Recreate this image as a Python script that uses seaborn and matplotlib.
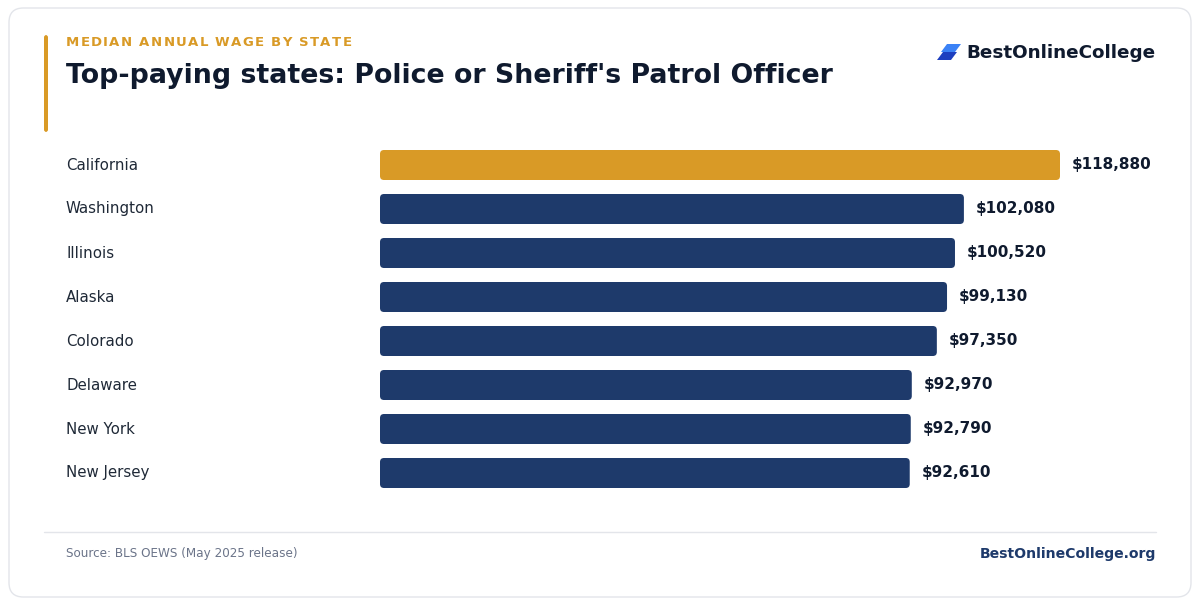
import matplotlib
matplotlib.use("Agg")
import matplotlib.pyplot as plt
import seaborn as sns
import pandas as pd
from matplotlib.patches import FancyBboxPatch, Polygon
import matplotlib.transforms as mtransforms
from matplotlib.textpath import TextToPath
from matplotlib.font_manager import FontProperties

states = ["California", "Washington", "Illinois", "Alaska", "Colorado", "Delaware", "New York", "New Jersey"]
wages = [118880, 102080, 100520, 99130, 97350, 92970, 92790, 92610]
labels = ["$118,880", "$102,080", "$100,520", "$99,130", "$97,350", "$92,970", "$92,790", "$92,610"]

sns.set_theme(style="white")
plt.rcParams['font.family'] = ['DejaVu Sans']

W, H = 1200, 606
fig = plt.figure(figsize=(12, 6.06), dpi=100)
fig.patch.set_facecolor("white")

def fx(px): return px / W
def fy(py): return 1 - py / H

card = FancyBboxPatch((fx(9), fy(597)), fx(1182), 589 / H, boxstyle="round,pad=0,rounding_size=0.012",
                      transform=fig.transFigure, facecolor="white", edgecolor="#E3E5EA", lw=1,
                      mutation_aspect=W / H, zorder=-10)
fig.patches.append(card)
fig.patches.append(FancyBboxPatch((fx(44), fy(132)), fx(4), 97 / H, boxstyle="round,pad=0,rounding_size=0.002",
                                  transform=fig.transFigure, facecolor="#D99A26", edgecolor="none",
                                  mutation_aspect=W / H, zorder=-5))

sub = "MEDIAN ANNUAL WAGE BY STATE"
fp = FontProperties(family="DejaVu Sans", weight="bold", size=9.5)
ttp = TextToPath()
x = 66.0
for ch in sub:
    fig.text(fx(x), fy(42), ch, color="#D99A26", fontproperties=fp, va="center")
    w, _, _ = ttp.get_text_width_height_descent(ch, fp, ismath=False)
    x += w * 100 / 72 + 1.35

fig.text(fx(66), fy(76), "Top-paying states: Police or Sheriff's Patrol Officer", color="#0F1A2E",
         fontsize=19.3, fontweight="bold", va="center")

fig.patches.append(Polygon([[fx(941), fy(52)], [fx(947), fy(44)], [fx(961), fy(44)], [fx(955), fy(52)]],
                           closed=True, transform=fig.transFigure, facecolor="#3B82F6", edgecolor="none"))
fig.patches.append(Polygon([[fx(937), fy(60)], [fx(943), fy(52)], [fx(957), fy(52)], [fx(951), fy(60)]],
                           closed=True, transform=fig.transFigure, facecolor="#1D3FBF", edgecolor="none"))
fig.text(fx(1156), fy(53), "BestOnlineCollege", color="#0F1A2E", fontsize=13.2, fontweight="bold",
         va="center", ha="right")

left, right, top, bottom = 380, 1160, 143, 495
ax = fig.add_axes([fx(left), fy(bottom), fx(right - left), (bottom - top) / H])
ax.patch.set_alpha(0)
df = pd.DataFrame({"state": states, "wage": wages})
colors = ["#D99A26"] + ["#1E3A6B"] * (len(states) - 1)
sns.barplot(data=df, y="state", x="wage", hue="state", palette=colors, legend=False,
            orient="h", width=30 / 44, ax=ax, saturation=1)
xmax = 118880 * (right - left) / 680
ax.set_xlim(0, xmax)
ax.set_ylim(len(states) - 0.5, -0.5)
ax.axis("off")

xpp = xmax / (right - left)
ypp = len(states) / (bottom - top)
for p in list(ax.patches):
    x0, y0, w, h = p.get_x(), p.get_y(), p.get_width(), p.get_height()
    fc = p.get_facecolor()
    p.remove()
    ax.add_patch(FancyBboxPatch((x0, y0), w, h, boxstyle=f"round,pad=0,rounding_size={4 * xpp}",
                                mutation_aspect=ypp / xpp, facecolor=fc, edgecolor="none"))

trans = mtransforms.blended_transform_factory(fig.transFigure, ax.transData)
for i, (s, v, l) in enumerate(zip(states, wages, labels)):
    ax.text(fx(66), i, s, transform=trans, fontsize=10.8, color="#1F2937", va="center", clip_on=False)
    ax.text(v + 12 * xpp, i, l, fontsize=11, fontweight="bold", color="#0F1A2E", va="center", clip_on=False)

fig.add_artist(plt.Line2D([fx(44), fx(1156)], [fy(532), fy(532)], transform=fig.transFigure, color="#E3E5EA", lw=1))
fig.text(fx(66), fy(554), "Source: BLS OEWS (May 2025 release)", color="#6B7489", fontsize=8.65, va="center")
fig.text(fx(1156), fy(554), "BestOnlineCollege.org", color="#1E3A6B", fontsize=10.1, fontweight="bold",
         va="center", ha="right")

fig.savefig("out.png", dpi=100, facecolor="white")
